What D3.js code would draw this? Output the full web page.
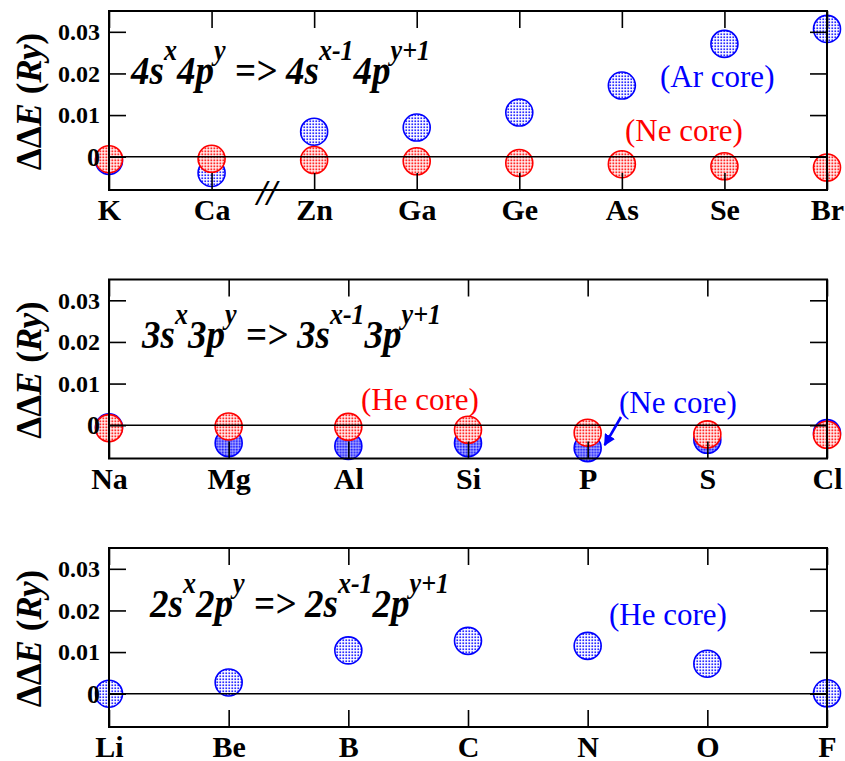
<!DOCTYPE html>
<html><head><meta charset="utf-8">
<script src="https://cdn.jsdelivr.net/npm/d3@7"></script>
<style>
html,body{margin:0;padding:0;background:#fff;}
svg text{font-family:"Liberation Serif","Times New Roman",serif;}
</style></head>
<body><svg id="chart" width="845" height="761"></svg>
<script>
// ---------- data ----------
const catsTop = ["K","Ca","Zn","Ga","Ge","As","Se","Br"];
const arCoreTop = [-0.0010,-0.0039,0.0060,0.0070,0.0106,0.0171,0.0271,0.0307];
const neCoreTop = [-0.0006,-0.0005,-0.0008,-0.0011,-0.0015,-0.0018,-0.0023,-0.0026];

const catsMid = ["Na","Mg","Al","Si","P","S","Cl"];
const neCoreMid = [-0.0005,-0.0043,-0.0050,-0.0043,-0.0055,-0.0035,-0.0019];
const heCoreMid = [-0.0007,-0.0003,-0.0004,-0.0011,-0.0018,-0.0022,-0.0023];

const catsBot = ["Li","Be","B","C","N","O","F"];
const heCoreBot = [0.0000,0.0027,0.0104,0.0127,0.0115,0.0072,0.0001];

const yTicks = [0,0.01,0.02,0.03];
const yDomain = [-0.008,0.035];

// ---------- layout ----------
const svg = d3.select("#chart");
const left = 109, right = 827, ph = 179;
const tops = [11, 279.5, 548];

const defs = svg.append("defs");
function dotPattern(id, color, size, step){
  const p = defs.append("pattern").attr("id",id).attr("patternUnits","userSpaceOnUse")
    .attr("width",step).attr("height",step);
  p.append("rect").attr("width",step).attr("height",step).attr("fill","#fff");
  p.append("rect").attr("x",0.4).attr("y",0.4).attr("width",size).attr("height",size).attr("fill",color);
}
dotPattern("pBlue","#2a2aff",1.7,3);
dotPattern("pRed","#ff2a2a",1.9,3);
dotPattern("pBlueDense","#1515ff",2.2,2.8);

const arrowM = defs.append("marker").attr("id","arrB").attr("viewBox","0 0 10 10")
  .attr("refX",9).attr("refY",5).attr("markerWidth",4.5).attr("markerHeight",4.5)
  .attr("orient","auto").attr("markerUnits","strokeWidth");
arrowM.append("path").attr("d","M0,0 L10,5 L0,10 z").attr("fill","#0000ff");

function panel(top, cats, series, eqParts, eqX, eqBase){
  const g = svg.append("g");
  const x = d3.scalePoint().domain(cats).range([left,right]).padding(0);
  const y = d3.scaleLinear().domain(yDomain).range([top+ph, top]);

  // markers
  series.forEach(s=>{
    g.append("g").selectAll("circle").data(s.values).join("circle")
      .attr("cx",(d,i)=>x(cats[i])).attr("cy",d=>y(d)).attr("r",13.5)
      .attr("fill",`url(#${s.pattern})`).attr("stroke",s.color).attr("stroke-width",1.6);
  });

  // zero line
  g.append("line").attr("x1",left).attr("x2",right).attr("y1",y(0)).attr("y2",y(0))
    .attr("stroke","#000").attr("stroke-width",1.6);

  // axes
  const fmt = d => d===0 ? "0" : d3.format(".2f")(d);
  const ax = [
    g.append("g").attr("transform",`translate(${left},0)`).call(d3.axisLeft(y).tickValues(yTicks).tickSize(-17).tickPadding(9).tickFormat(fmt)),
    g.append("g").attr("transform",`translate(${right},0)`).call(d3.axisRight(y).tickValues(yTicks).tickSize(-17).tickFormat("")),
    g.append("g").attr("transform",`translate(0,${top+ph})`).call(d3.axisBottom(x).tickSize(-17).tickPadding(9)),
    g.append("g").attr("transform",`translate(0,${top})`).call(d3.axisTop(x).tickSize(-17).tickFormat(""))
  ];
  ax.forEach(a=>{
    a.select(".domain").remove();
    a.selectAll(".tick line").attr("stroke","#000").attr("stroke-width",1.6);
    a.selectAll("text").attr("fill","#000").style("font-family",'"Liberation Serif","Times New Roman",serif').attr("font-weight","bold");
  });
  ax[0].selectAll("text").attr("font-size",d=>d===0?26:24);
  ax[2].selectAll("text").attr("font-size",30);

  // frame
  g.append("rect").attr("x",left).attr("y",top).attr("width",right-left).attr("height",ph)
    .attr("fill","none").attr("stroke","#000").attr("stroke-width",2);

  // y label
  const yl = g.append("text").attr("transform",`translate(41,${top+ph/2+1}) rotate(-90)`)
    .attr("text-anchor","middle").attr("font-size",35).attr("font-weight","bold").attr("fill","#000");
  yl.append("tspan").text("ΔΔ");
  yl.append("tspan").attr("font-style","italic").text("E");
  yl.append("tspan").text(" (");
  yl.append("tspan").attr("font-style","italic").text("Ry");
  yl.append("tspan").text(")");

  // equation
  const eq = g.append("g").attr("transform",`translate(${eqX},${eqBase}) scale(1,1.1)`)
    .append("text").attr("x",0).attr("y",0).attr("font-size",37)
    .attr("font-weight","bold").attr("font-style","italic").attr("fill","#000");
  let raised = false;
  eqParts.forEach(p=>{
    const t = eq.append("tspan").text(p.t);
    if(p.sup){ t.attr("font-size",26); if(!raised){ t.attr("dy",-22); raised = true; } }
    else if(raised){ t.attr("dy",22); raised = false; }
  });
  return {g,x,y};
}

const eqTop = [{t:"4s"},{t:"x",sup:true},{t:"4p"},{t:"y",sup:true},{t:" => 4s"},{t:"x-1",sup:true},{t:"4p"},{t:"y+1",sup:true}];
const eqMid = [{t:"3s"},{t:"x",sup:true},{t:"3p"},{t:"y",sup:true},{t:" => 3s"},{t:"x-1",sup:true},{t:"3p"},{t:"y+1",sup:true}];
const eqBot = [{t:"2s"},{t:"x",sup:true},{t:"2p"},{t:"y",sup:true},{t:" => 2s"},{t:"x-1",sup:true},{t:"2p"},{t:"y+1",sup:true}];

const P1 = panel(tops[0], catsTop, [
  {values:arCoreTop, color:"#0000ff", pattern:"pBlue"},
  {values:neCoreTop, color:"#ff0000", pattern:"pRed"}], eqTop, 131, 84);
const P2 = panel(tops[1], catsMid, [
  {values:neCoreMid, color:"#0000ff", pattern:"pBlueDense"},
  {values:heCoreMid, color:"#ff0000", pattern:"pRed"}], eqMid, 142, 348);
const P3 = panel(tops[2], catsBot, [
  {values:heCoreBot, color:"#0000ff", pattern:"pBlue"}], eqBot, 150, 617);

// annotations
function note(txt, x, yb, color){
  svg.append("text").attr("x",x).attr("y",yb).attr("font-size",31).attr("fill",color).text(txt);
}
note("(Ar core)", 660, 87, "#0000ff");
note("(Ne core)", 625, 141, "#ff0000");
note("(He core)", 361, 410, "#ff0000");
note("(Ne core)", 619, 413, "#0000ff");
note("(He core)", 609, 625, "#0000ff");

// arrow to P (Ne core) in middle panel
const px = P2.x("P"), py = P2.y(neCoreMid[4]);
svg.append("line").attr("x1",621).attr("y1",417).attr("x2",px+17).attr("y2",py-3)
  .attr("stroke","#0000ff").attr("stroke-width",2.6).attr("marker-end","url(#arrB)");

// axis break mark
svg.append("text").attr("x",267).attr("y",205).attr("text-anchor","middle")
  .attr("font-size",36).attr("font-style","italic").attr("font-weight","bold").attr("fill","#000").text("//");
</script></body></html>
